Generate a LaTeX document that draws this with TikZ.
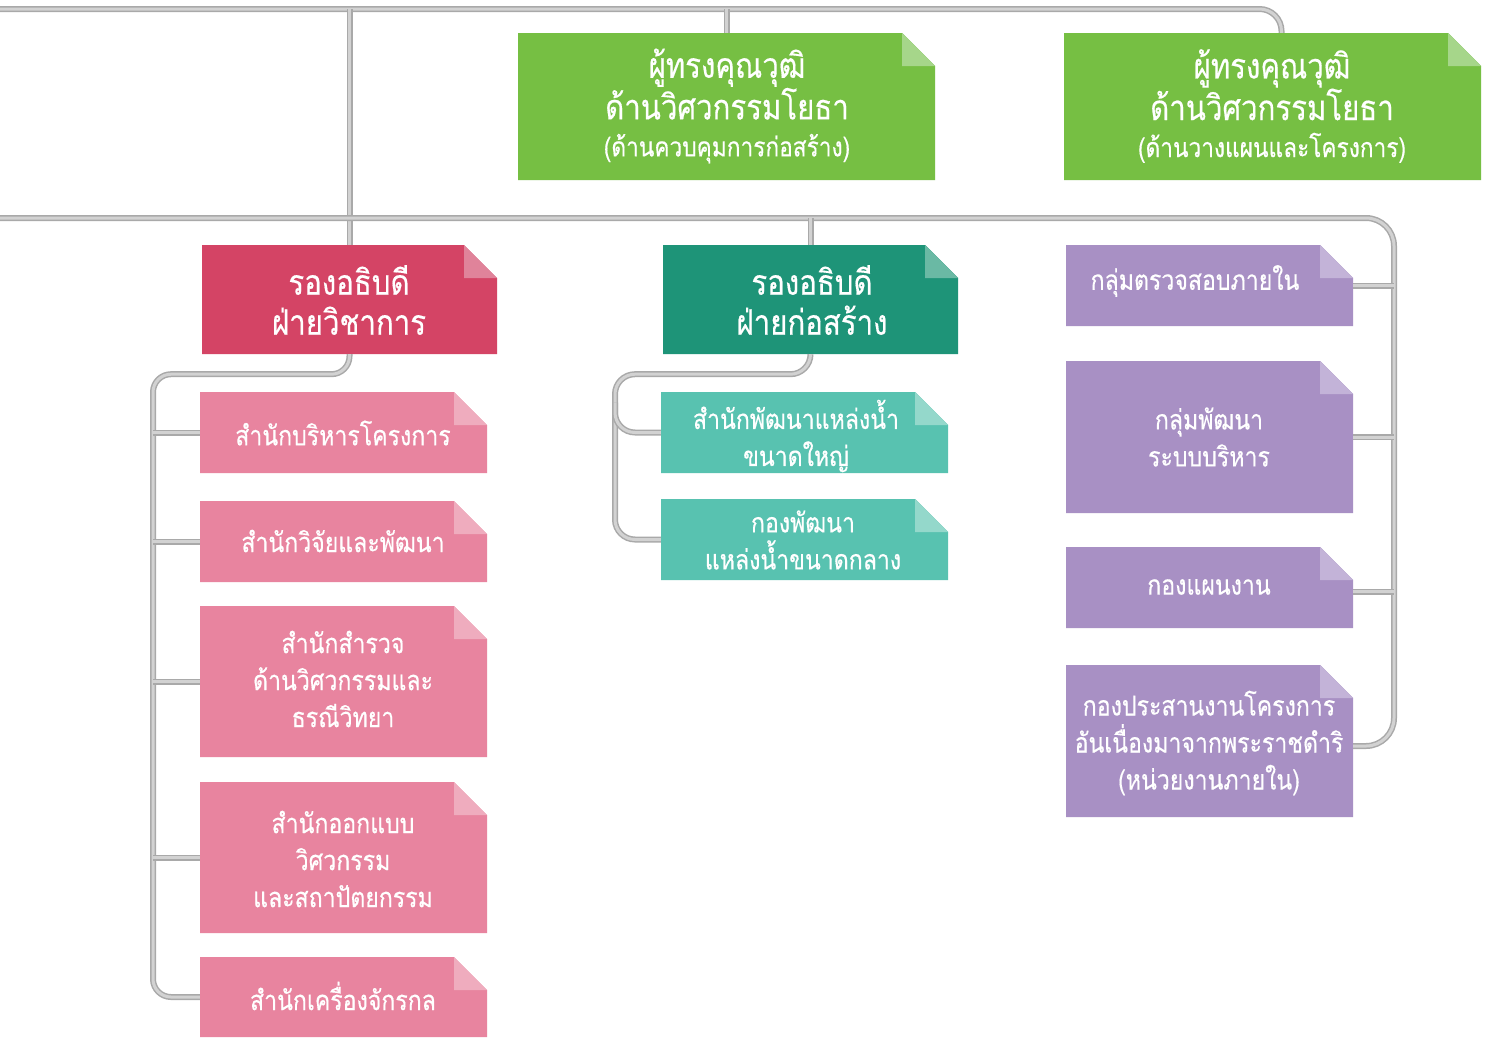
\documentclass[tikz,border=0pt]{standalone}
\usepackage{fontspec}
\newfontfamily\thaifont[Script=Thai, FakeStretch=0.84, FakeBold=0.4]{Loma}
\definecolor{cgreen}{HTML}{76BF43}\definecolor{cgreenfold}{HTML}{A6D68A}
\definecolor{cpinkd}{HTML}{D44465}\definecolor{cpinkdfold}{HTML}{E0839A}
\definecolor{cteald}{HTML}{1E9478}\definecolor{ctealdfold}{HTML}{6AB9A4}
\definecolor{cpinkl}{HTML}{E8849F}\definecolor{cpinklfold}{HTML}{EFACBE}
\definecolor{ctealbl}{HTML}{58C2B0}\definecolor{ctealblfold}{HTML}{94D8CB}
\definecolor{cpurp}{HTML}{A890C4}\definecolor{cpurpfold}{HTML}{C3B3D8}
\definecolor{lineout}{HTML}{A9A9A9}\definecolor{linein}{HTML}{D2D2D2}
\tikzset{
  conn/.style={draw=linein, line width=3pt, preaction={draw=lineout, line width=6pt}},
  boxtext/.style={text=white, align=center, inner sep=0pt, font=\thaifont\fontsize{27.5}{37}\selectfont},
  bigtext/.style={text=white, align=center, inner sep=0pt, font=\thaifont\fontsize{35}{40}\selectfont},
}
\newcommand{\dogbox}[7]{%
  \path[fill=#6] (#2,#3) -- ({#4-33},#3) -- (#4,{#3+33}) -- (#4,#5) -- (#2,#5) -- cycle;
  \path[fill=#6fold] ({#4-33},#3) -- ({#4-33},{#3+33}) -- (#4,{#3+33}) -- cycle;
  \node[inner sep=0pt, minimum width={(#4-#2)*1pt}, minimum height={(#5-#3)*1pt}] (#1) at ({(#2+#4)/2},{(#3+#5)/2}) {};
  #7
}
\begin{document}
\begin{tikzpicture}[x=1pt,y=-1pt]
\useasboundingbox (0,0) rectangle (1485,1037);
\fill[white] (0,0) rectangle (1485,1037);
% boxes
\dogbox{gA}{518}{33}{935}{180}{cgreen}{\node[bigtext] (gA-t) at (727,106) {ผู้ทรงคุณวุฒิ\\ด้านวิศวกรรมโยธา\\[-3pt]{\fontsize{27}{30}\selectfont (ด้านควบคุมการก่อสร้าง)}};}
\dogbox{gB}{1064}{33}{1481}{180}{cgreen}{\node[bigtext] (gB-t) at (1272,106) {ผู้ทรงคุณวุฒิ\\ด้านวิศวกรรมโยธา\\[-3pt]{\fontsize{27}{30}\selectfont (ด้านวางแผนและโครงการ)}};}
\dogbox{vA}{202}{245}{497}{354}{cpinkd}{\node[bigtext] (vA-t) at (349,300) {รองอธิบดี\\ฝ่ายวิชาการ};}
\dogbox{vB}{663}{245}{958}{354}{cteald}{\node[bigtext] (vB-t) at (812,300) {รองอธิบดี\\ฝ่ายก่อสร้าง};}
\dogbox{p1}{1066}{245}{1353}{326}{cpurp}{\node[boxtext] (p1-t) at (1195,281) {กลุ่มตรวจสอบภายใน};}
\dogbox{p2}{1066}{361}{1353}{513}{cpurp}{\node[boxtext] (p2-t) at (1209,437) {กลุ่มพัฒนา\\ระบบบริหาร};}
\dogbox{p3}{1066}{547}{1353}{628}{cpurp}{\node[boxtext] (p3-t) at (1209,587) {กองแผนงาน};}
\dogbox{p4}{1066}{665}{1353}{817}{cpurp}{\node[boxtext] (p4-t) at (1209,743) {กองประสานงานโครงการ\\อันเนื่องมาจากพระราชดำริ\\(หน่วยงานภายใน)};}
\dogbox{l1}{200}{392}{487}{473}{cpinkl}{\node[boxtext] (l1-t) at (343,433) {สำนักบริหารโครงการ};}
\dogbox{l2}{200}{501}{487}{582}{cpinkl}{\node[boxtext] (l2-t) at (343,541) {สำนักวิจัยและพัฒนา};}
\dogbox{l3}{200}{606}{487}{757}{cpinkl}{\node[boxtext] (l3-t) at (343,679) {สำนักสำรวจ\\ด้านวิศวกรรมและ\\ธรณีวิทยา};}
\dogbox{l4}{200}{782}{487}{933}{cpinkl}{\node[boxtext] (l4-t) at (343,859) {สำนักออกแบบ\\วิศวกรรม\\และสถาปัตยกรรม};}
\dogbox{l5}{200}{957}{487}{1037}{cpinkl}{\node[boxtext] (l5-t) at (343,996) {สำนักเครื่องจักรกล};}
\dogbox{t1}{661}{392}{948}{473}{ctealbl}{\node[boxtext] (t1-t) at (796,436) {สำนักพัฒนาแหล่งน้ำ\\ขนาดใหญ่};}
\dogbox{t2}{661}{499}{948}{580}{ctealbl}{\node[boxtext] (t2-t) at (803,540) {กองพัฒนา\\แหล่งน้ำขนาดกลาง};}
% connector anchors
\coordinate (topL) at (0,9);
\coordinate (midL) at (0,218);
\coordinate (pinkbus) at (153,0);
\coordinate (tealbus) at (615,0);
\coordinate (purpbus) at (1394,0);
% connectors
\draw[conn, rounded corners=22pt] (topL) -| ([xshift=9pt]gB.north);
\draw[conn] (gA.north) -- (gA.north |- topL);
\draw[conn] (vA.north) -- (vA.north |- topL);
\draw[conn, rounded corners=28pt] (midL) -| ([yshift=-5pt]p4.east -| purpbus) -- ([yshift=-5pt]p4.east);
\draw[conn] (vB.north) -- (vB.north |- midL);
\draw[conn] (p1.east) -- (p1.east -| purpbus);
\draw[conn] (p2.east) -- (p2.east -| purpbus);
\draw[conn] ([yshift=-4pt]p3.east) -- ([yshift=-4pt]p3.east -| purpbus);
\draw[conn, rounded corners=18pt] (vA.south) -- ++(0,20) -| (l5.west -| pinkbus) -- (l5.west);
\draw[conn] (l1.west) -- (l1.west -| pinkbus);
\draw[conn] (l2.west) -- (l2.west -| pinkbus);
\draw[conn] (l3.west) -- (l3.west -| pinkbus);
\draw[conn] (l4.west) -- (l4.west -| pinkbus);
\draw[conn, rounded corners=20pt] (vB.south) -- ++(0,20) -| (t2.west -| tealbus) -- (t2.west);
\draw[conn, rounded corners=20pt] ([yshift=30pt]t1.west -| tealbus) |- (t1.west);
\end{tikzpicture}
\end{document}
